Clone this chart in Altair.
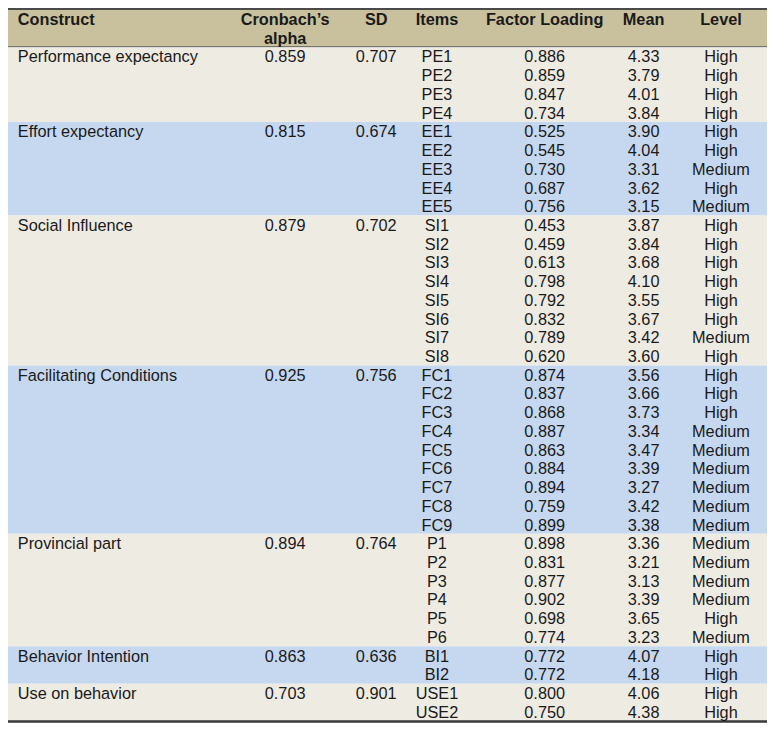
import altair as alt
import pandas as pd

# ---------------- data ----------------
headers = ["Construct", "Cronbach\u2019s\nalpha", "SD", "Items", "Factor Loading", "Mean", "Level"]
constructs = ["Performance expectancy", "Effort expectancy", "Social Influence",
              "Facilitating Conditions", "Provincial part", "Behavior Intention",
              "Use on behavior"]
cronbach_alpha = [0.859, 0.815, 0.879, 0.925, 0.894, 0.863, 0.703]
sd_values = [0.707, 0.674, 0.702, 0.756, 0.764, 0.636, 0.901]
items = [
    ["PE1", "PE2", "PE3", "PE4"],
    ["EE1", "EE2", "EE3", "EE4", "EE5"],
    ["SI1", "SI2", "SI3", "SI4", "SI5", "SI6", "SI7", "SI8"],
    ["FC1", "FC2", "FC3", "FC4", "FC5", "FC6", "FC7", "FC8", "FC9"],
    ["P1", "P2", "P3", "P4", "P5", "P6"],
    ["BI1", "BI2"],
    ["USE1", "USE2"],
]
factor_loading = [
    [0.886, 0.859, 0.847, 0.734],
    [0.525, 0.545, 0.730, 0.687, 0.756],
    [0.453, 0.459, 0.613, 0.798, 0.792, 0.832, 0.789, 0.620],
    [0.874, 0.837, 0.868, 0.887, 0.863, 0.884, 0.894, 0.759, 0.899],
    [0.898, 0.831, 0.877, 0.902, 0.698, 0.774],
    [0.772, 0.772],
    [0.800, 0.750],
]
means = [
    [4.33, 3.79, 4.01, 3.84],
    [3.90, 4.04, 3.31, 3.62, 3.15],
    [3.87, 3.84, 3.68, 4.10, 3.55, 3.67, 3.42, 3.60],
    [3.56, 3.66, 3.73, 3.34, 3.47, 3.39, 3.27, 3.42, 3.38],
    [3.36, 3.21, 3.13, 3.39, 3.65, 3.23],
    [4.07, 4.18],
    [4.06, 4.38],
]
levels = [
    ["High", "High", "High", "High"],
    ["High", "High", "Medium", "High", "Medium"],
    ["High", "High", "High", "High", "High", "High", "Medium", "High"],
    ["High", "High", "High", "Medium", "Medium", "Medium", "Medium", "Medium", "Medium"],
    ["Medium", "Medium", "Medium", "Medium", "High", "Medium"],
    ["High", "High"],
    ["High", "High"],
]

# ---------------- layout ----------------
REF_W, REF_H = 775, 731
W, H = 759, 715
HEADER_H = 40.0
ROW_H = 19.14
col_x = {"construct": 10, "alpha": 283, "sd": 376, "items": 438,
         "loading": 548, "mean": 649, "level": 728}
TAN, LIGHT, BLUE = "#C9C19D", "#EEEBE2", "#C6D8EF"
FONT = "Liberation Sans"
FS = 16.3
TXT = "#1a1a1a"

xscale = alt.Scale(domain=[0, REF_W], range=[0, W])
yscale = alt.Scale(domain=[0, REF_H], range=[0, H])

# bands
bands = [{"y0": 0, "y1": HEADER_H, "kind": "header"}]
left_cells = []
center_cells = []
r = 0
for g, name in enumerate(constructs):
    n = len(items[g])
    y0 = HEADER_H + r * ROW_H
    bands.append({"y0": y0, "y1": y0 + n * ROW_H, "kind": "blue" if g % 2 else "plain"})
    yc = y0 + ROW_H / 2
    left_cells.append({"x": col_x["construct"], "y": yc, "t": name})
    center_cells.append({"x": col_x["alpha"], "y": yc, "t": f"{cronbach_alpha[g]:.3f}"})
    center_cells.append({"x": col_x["sd"], "y": yc, "t": f"{sd_values[g]:.3f}"})
    for k in range(n):
        yk = HEADER_H + (r + k + 0.5) * ROW_H
        center_cells.append({"x": col_x["items"], "y": yk, "t": items[g][k]})
        center_cells.append({"x": col_x["loading"], "y": yk, "t": f"{factor_loading[g][k]:.3f}"})
        center_cells.append({"x": col_x["mean"], "y": yk, "t": f"{means[g][k]:.2f}"})
        center_cells.append({"x": col_x["level"], "y": yk, "t": levels[g][k]})
    r += n
TOTAL_BOTTOM = HEADER_H + r * ROW_H

hdr_keys = ["construct", "alpha", "sd", "items", "loading", "mean", "level"]
hdr_left = pd.DataFrame([{"x": col_x[hdr_keys[0]], "y": 4.3, "t": headers[0]}])
hdr_center = pd.DataFrame([{"x": col_x[k], "y": 4.3, "t": h}
                           for k, h in zip(hdr_keys[1:], headers[1:])])

bands_df = pd.DataFrame(bands)
rules_df = pd.DataFrame([
    {"y": 1.0, "w": 2.0, "c": "#4a4a4a"},
    {"y": HEADER_H - 0.5, "w": 1.0, "c": "#6a6a6a"},
    {"y": min(TOTAL_BOTTOM + 0.5, REF_H - 1.2), "w": 2.4, "c": "#3a3a3a"},
])

band_layer = alt.Chart(bands_df).mark_rect().encode(
    x=alt.value(0), x2=alt.value(W),
    y=alt.Y("y0:Q", scale=yscale, axis=None), y2="y1:Q",
    color=alt.Color("kind:N", scale=alt.Scale(domain=["header", "plain", "blue"],
                                              range=[TAN, LIGHT, BLUE]), legend=None),
)

rule_layer = alt.Chart(rules_df).mark_rule().encode(
    x=alt.value(0), x2=alt.value(W),
    y=alt.Y("y:Q", scale=yscale, axis=None),
    strokeWidth=alt.StrokeWidth("w:Q", scale=None),
    color=alt.Color("c:N", scale=None),
)

def text_layer(df, align, baseline="middle", bold=False, dy=0):
    return alt.Chart(pd.DataFrame(df)).mark_text(
        align=align, baseline=baseline, font=FONT, fontSize=FS,
        fontWeight="bold" if bold else "normal", color=TXT, dy=dy,
        lineBreak="\n", lineHeight=19,
    ).encode(
        x=alt.X("x:Q", scale=xscale, axis=None),
        y=alt.Y("y:Q", scale=yscale, axis=None),
        text="t:N",
    )

chart = alt.layer(
    band_layer,
    rule_layer,
    text_layer(hdr_left, "left", baseline="top", bold=True),
    text_layer(hdr_center, "center", baseline="top", bold=True),
    text_layer(left_cells, "left", dy=1),
    text_layer(center_cells, "center", dy=1),
).properties(
    width=W, height=H,
    autosize=alt.AutoSizeParams(type="none"),
    padding=0,
).configure_view(stroke=None)

chart.save("out.html", embed_options={"renderer": "svg", "actions": False})
